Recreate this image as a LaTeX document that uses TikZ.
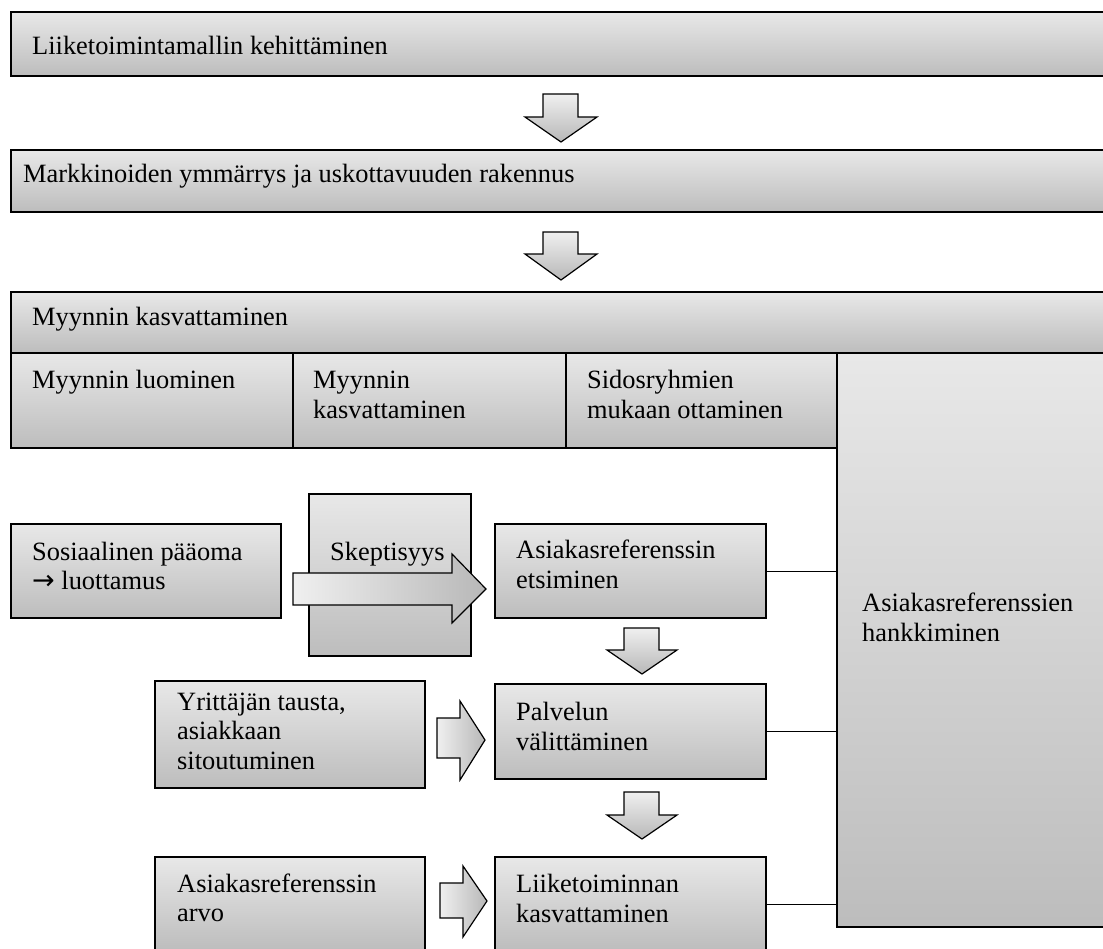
\documentclass[tikz,border=0pt]{standalone}
\usepackage{fontspec}
\setmainfont{Liberation Serif}
\newfontfamily\arrowfont{DejaVu Sans}
\tikzset{
  box/.style={draw=black, line width=1.3pt, top color=white!91!black, bottom color=white!74!black,
    anchor=north west, inner sep=0pt, outer sep=0pt},
  headbox/.style={box, line width=1.8pt},
  txt/.style={font=\fontsize{26.4}{29.5}\selectfont, inner sep=0pt, anchor=base west, align=left},
  downarrow/.style={draw=black, line width=1.2pt, top color=white!94!black, bottom color=white!72!black},
  rightarrow/.style={draw=black, line width=1.2pt, left color=white!94!black, right color=white!72!black},
  link/.style={draw=black, line width=1pt}
}
\begin{document}
\begin{tikzpicture}[x=1pt,y=-1pt]
\useasboundingbox (0,0) rectangle (1103,948);
% top level boxes
\node[headbox, minimum width=1099pt, minimum height=64pt] (b1) at (11,12) {};
\node[txt] (t1) at (32,54) {Liiketoimintamallin kehittäminen};
\path[downarrow] (543,94) -- (578,94) -- (578,117) -- (597,117) -- (561,142) -- (525,117) -- (543,117) -- cycle;
\node[headbox, minimum width=1099pt, minimum height=62pt] (b2) at (11,150) {};
\node[txt] (t2) at (23,182) {Markkinoiden ymmärrys ja uskottavuuden rakennus};
\path[downarrow] (543,232) -- (578,232) -- (578,254) -- (597,254) -- (561,280) -- (525,254) -- (543,254) -- cycle;
% sales growth block
\node[box, minimum width=1099pt, minimum height=61pt] (b3) at (11,292) {};
\node[txt] (t3) at (32,325) {Myynnin kasvattaminen};
\node[box, minimum width=282pt, minimum height=95pt] (s1) at (11,353) {};
\node[txt] (ts1) at (32,388) {Myynnin luominen};
\node[box, minimum width=273pt, minimum height=95pt] (s2) at (293,353) {};
\node[txt] (ts2) at (313,418) {Myynnin\\kasvattaminen};
\node[box, minimum width=271pt, minimum height=95pt] (s3) at (566,353) {};
\node[txt] (ts3) at (587,418) {Sidosryhmien\\mukaan ottaminen};
\node[box, minimum width=273pt, minimum height=574pt] (r) at (837,353) {};
\node[txt] (tr) at (862,641) {Asiakasreferenssien\\hankkiminen};
% row 1
\node[box, minimum width=270pt, minimum height=94pt] (soc) at (11,524) {};
\node[txt] (tsoc) at (32,589.5) {Sosiaalinen pääoma\\{\arrowfont\fontsize{27}{29.5}\selectfont →} luottamus};
\node[box, minimum width=162pt, minimum height=162pt] (sk) at (309,494) {};
\node[txt] (tsk) at (330,560) {Skeptisyys};
\path[rightarrow] (293,573) -- (452,573) -- (452,554) -- (486,589) -- (452,623) -- (452,605) -- (293,605) -- cycle;
\node[box, minimum width=271pt, minimum height=94pt] (e1) at (495,524) {};
\node[txt] (te1) at (516,588) {Asiakasreferenssin\\etsiminen};
\path[downarrow] (624,628) -- (659,628) -- (659,650) -- (677,650) -- (642,674) -- (607,650) -- (624,650) -- cycle;
% row 2
\node[box, minimum width=270pt, minimum height=107pt] (y) at (155,681) {};
\node[txt] (ty) at (177,769) {Yrittäjän tausta,\\asiakkaan\\sitoutuminen};
\path[rightarrow] (437,718) -- (460,718) -- (460,701) -- (485,740) -- (460,780) -- (460,758) -- (437,758) -- cycle;
\node[box, minimum width=271pt, minimum height=95pt] (p) at (495,684) {};
\node[txt] (tp) at (516,750) {Palvelun\\välittäminen};
\path[downarrow] (624,792) -- (659,792) -- (659,815) -- (677,815) -- (642,839) -- (607,815) -- (624,815) -- cycle;
% row 3
\node[box, minimum width=270pt, minimum height=94pt] (a) at (155,857) {};
\node[txt] (ta) at (177,921.5) {Asiakasreferenssin\\arvo};
\path[rightarrow] (440,883) -- (463,883) -- (463,866) -- (487,901) -- (463,937) -- (463,918) -- (440,918) -- cycle;
\node[box, minimum width=271pt, minimum height=94pt] (l) at (495,857) {};
\node[txt] (tl) at (516,922) {Liiketoiminnan\\kasvattaminen};
% connectors
\draw[link] (e1.east) -- (e1.east -| r.west);
\draw[link] (p.east) -- (p.east -| r.west);
\draw[link] (l.east) -- (l.east -| r.west);
\end{tikzpicture}
\end{document}
